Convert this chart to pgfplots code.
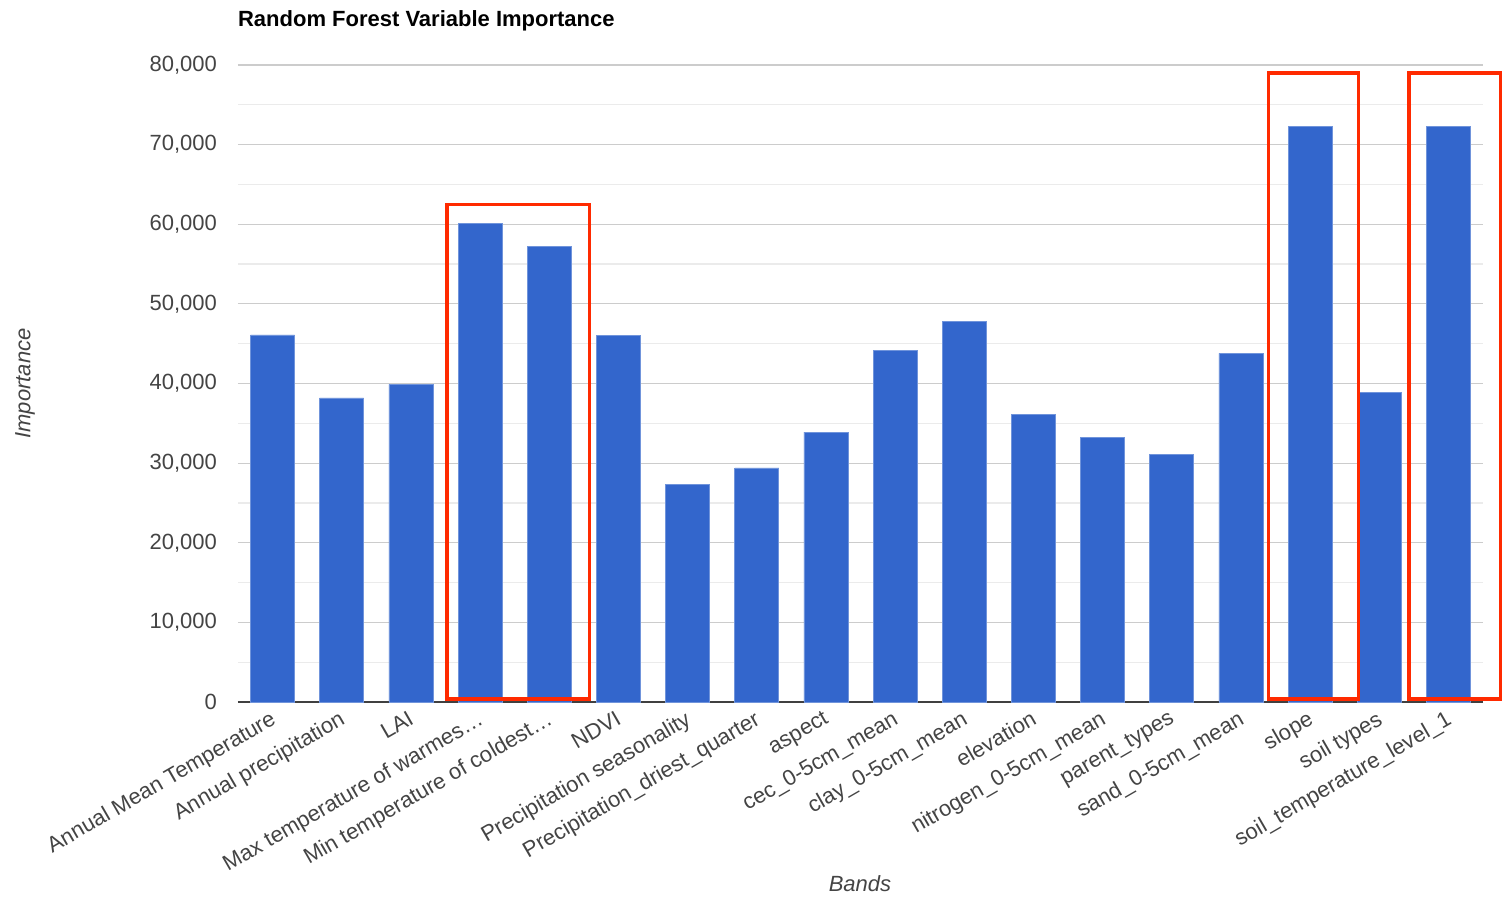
\documentclass[border=0pt]{standalone}
\usepackage{pgfplots}
\pgfplotsset{compat=1.18}
\usepackage{fontspec}
\setmainfont{Liberation Sans}
\definecolor{barblue}{HTML}{3366CC}
\definecolor{boxred}{HTML}{FF2A00}
\definecolor{tickgray}{HTML}{444444}
\definecolor{majgrid}{HTML}{CCCCCC}
\definecolor{mingrid}{HTML}{EBEBEB}
\begin{document}
\begin{tikzpicture}[font=\fontsize{11}{13}\selectfont]
\useasboundingbox (-119pt,-97pt) rectangle (633pt,351pt);
\begin{axis}[
  scale only axis,
  width=622.5pt, height=318.5pt,
  xmin=-0.5, xmax=17.5,
  ymin=0, ymax=80000,
  clip=false,
  ybar, bar width=22pt,
  xtick={0,...,17},
  xticklabels={Annual Mean Temperature, Annual precipitation, LAI, Max temperature of warmes…, Min temperature of coldest…, NDVI, Precipitation seasonality, Precipitation\_driest\_quarter, aspect, cec\_0-5cm\_mean, clay\_0-5cm\_mean, elevation, nitrogen\_0-5cm\_mean, parent\_types, sand\_0-5cm\_mean, slope, soil types, soil\_temperature\_level\_1},
  ytick={0,10000,...,80000},
  minor y tick num=1,
  ymajorgrids, yminorgrids,
  major grid style={draw=majgrid, line width=0.6pt},
  minor grid style={draw=mingrid, line width=0.6pt},
  major tick length=0pt, minor tick length=0pt,
  scaled y ticks=false,
  /pgf/number format/1000 sep={,},
  /pgf/number format/assume math mode=true,
  yticklabel style={xshift=-7pt, text=tickgray, font=\fontsize{11}{13}\selectfont},
  xticklabel style={rotate=30, anchor=north east, xshift=0pt, yshift=1pt, text=tickgray, font=\fontsize{11}{13}\selectfont},
  axis x line*=bottom, axis y line*=left,
  y axis line style={draw=none},
  x axis line style={draw=black!75, line width=0.8pt, -},
  every axis title shift=0pt,
  title={\bfseries Random Forest Variable Importance},
  title style={at={(axis description cs:0,1.061)}, anchor=base west, yshift=0pt, xshift=-3.5pt, font=\fontsize{11}{13}\selectfont},
  xlabel={\itshape Bands},
  xlabel style={at={(axis description cs:0.4996,-0.2857)}, anchor=center, text=tickgray},
  ylabel={\itshape Importance},
  ylabel style={at={(axis description cs:-0.171,0.5)}, anchor=center, text=tickgray},
]
\addplot[fill=barblue, draw=barblue!70!white, line width=0.3pt] coordinates {
(0,46100) (1,38200) (2,39900) (3,60100) (4,57200) (5,46000)
(6,27300) (7,29400) (8,33900) (9,44200) (10,47800) (11,36100)
(12,33200) (13,31100) (14,43800) (15,72300) (16,38900) (17,72300)};
\draw[boxred, line width=1.8pt] (axis cs:2.52,400) rectangle (axis cs:4.58,62500);
\draw[boxred, line width=1.8pt] (axis cs:14.4,400) rectangle (axis cs:15.7,79000);
\draw[boxred, line width=1.8pt] (axis cs:16.43,400) rectangle (axis cs:17.75,79000);
\end{axis}
\end{tikzpicture}
\end{document}
